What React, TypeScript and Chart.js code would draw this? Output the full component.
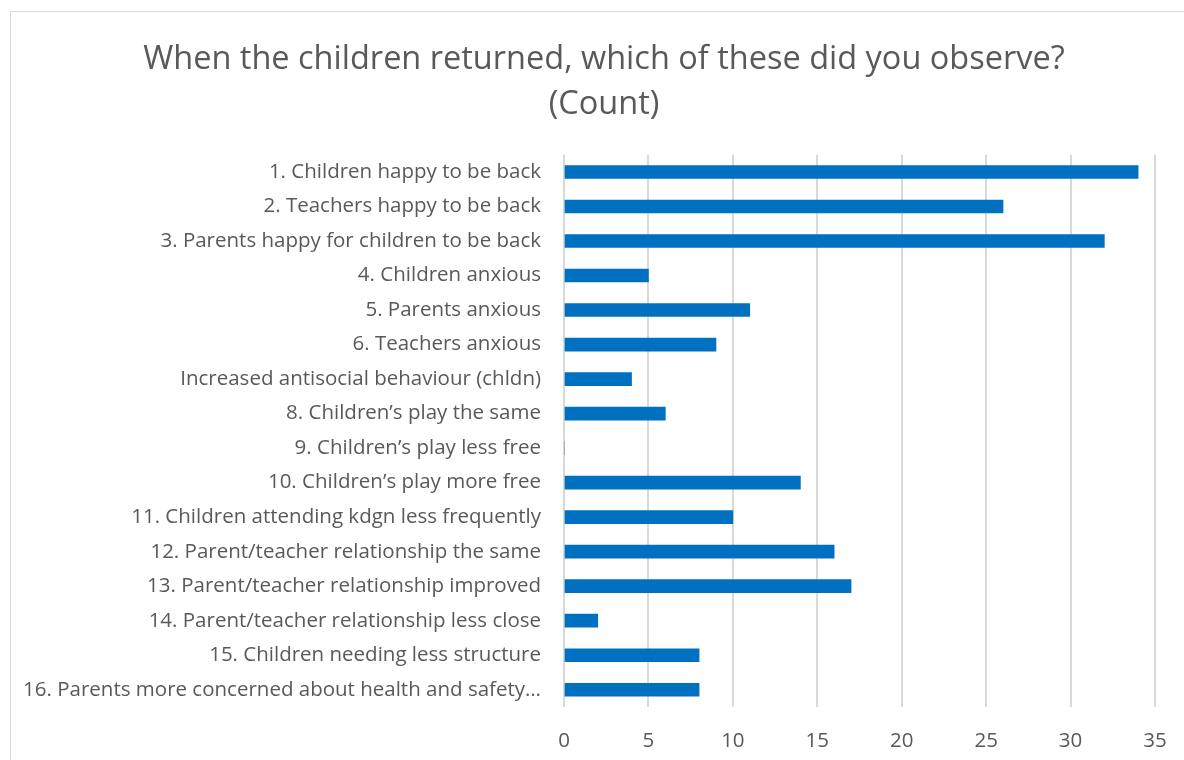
import React, { useEffect, useRef } from "react";
import { Chart, registerables } from "chart.js";

Chart.register(...registerables);

const titleLines = [
  "When the children returned, which of these did you observe?",
  "(Count)",
];

const categories = [
  "1. Children happy to be back",
  "2. Teachers happy to be back",
  "3. Parents happy for children to be back",
  "4. Children anxious",
  "5. Parents anxious",
  "6. Teachers anxious",
  "Increased antisocial behaviour (chldn)",
  "8. Children\u2019s play the same",
  "9. Children\u2019s play less free",
  "10. Children\u2019s play more free",
  "11. Children attending kdgn less frequently",
  "12. Parent/teacher relationship the same",
  "13. Parent/teacher relationship improved",
  "14. Parent/teacher relationship less close",
  "15. Children needing less structure",
  "16. Parents more concerned about health and safety\u2026",
];

const counts = [34, 26, 32, 5, 11, 9, 4, 6, 0, 14, 10, 16, 17, 2, 8, 8];

const xMin = 0;
const xMax = 35;
const xStep = 5;

const FONT = "'Open Sans', 'DejaVu Sans', sans-serif";
const TEXT = "#595959";

const PAD_LEFT = 53;
const PAD_RIGHT = 29;
const AXIS_X = 564;

const unclipYLabels = {
  id: "unclipYLabels",
  afterLayout(chart: any) {
    const y = chart.scales.y;
    if (y) y.left = 0;
  },
};

export default function App() {
  const ref = useRef<HTMLCanvasElement | null>(null);

  useEffect(() => {
    document.body.style.overflow = "hidden";
    const canvas = ref.current;
    if (!canvas) return;
    const chart = new Chart(canvas, {
      type: "bar",
      data: {
        labels: categories,
        datasets: [
          {
            label: "Count",
            data: counts,
            backgroundColor: "#0070C0",
            borderWidth: 0,
            barThickness: 13,
          },
        ],
      },
      plugins: [unclipYLabels],
      options: {
        indexAxis: "y",
        animation: false,
        responsive: false,
        maintainAspectRatio: false,
        layout: { padding: { left: PAD_LEFT, right: PAD_RIGHT, top: 0, bottom: 0 } },
        plugins: {
          legend: { display: false },
          tooltip: { enabled: false },
          title: {
            display: true,
            text: titleLines,
            color: TEXT,
            font: { family: FONT, size: 32.5, weight: "normal", lineHeight: 1.38 },
            padding: { top: 37, bottom: 28 },
          },
        },
        scales: {
          x: {
            min: xMin,
            max: xMax,
            ticks: {
              stepSize: xStep,
              color: TEXT,
              font: { family: FONT, size: 20.5 },
              padding: 22,
            },
            grid: { color: "#d9d9d9", lineWidth: 2, drawTicks: false },
            border: { display: false },
            afterFit: (scale: any) => {
              scale.height = 53;
              scale.paddingLeft = 0;
              scale.paddingRight = 0;
            },
          },
          y: {
            ticks: {
              color: TEXT,
              font: { family: FONT, size: 20.5 },
              padding: 23,
              autoSkip: false,
            },
            grid: { display: false, drawTicks: false },
            border: { display: false },
            afterFit: (scale: any) => {
              scale.width = AXIS_X - PAD_LEFT;
              scale.paddingTop = 0;
              scale.paddingBottom = 0;
            },
          },
        },
      },
    });
    return () => chart.destroy();
  }, []);

  return (
    <div>
      <div
        style={{
          position: "fixed",
          left: 10,
          top: 11,
          width: 1200,
          height: 800,
          border: "1.5px solid #d9d9d9",
          boxSizing: "border-box",
        }}
      />
      <canvas
        ref={ref}
        width={1184}
        height={760}
        style={{ position: "fixed", left: 0, top: 0, width: 1184, height: 760 }}
      />
    </div>
  );
}
